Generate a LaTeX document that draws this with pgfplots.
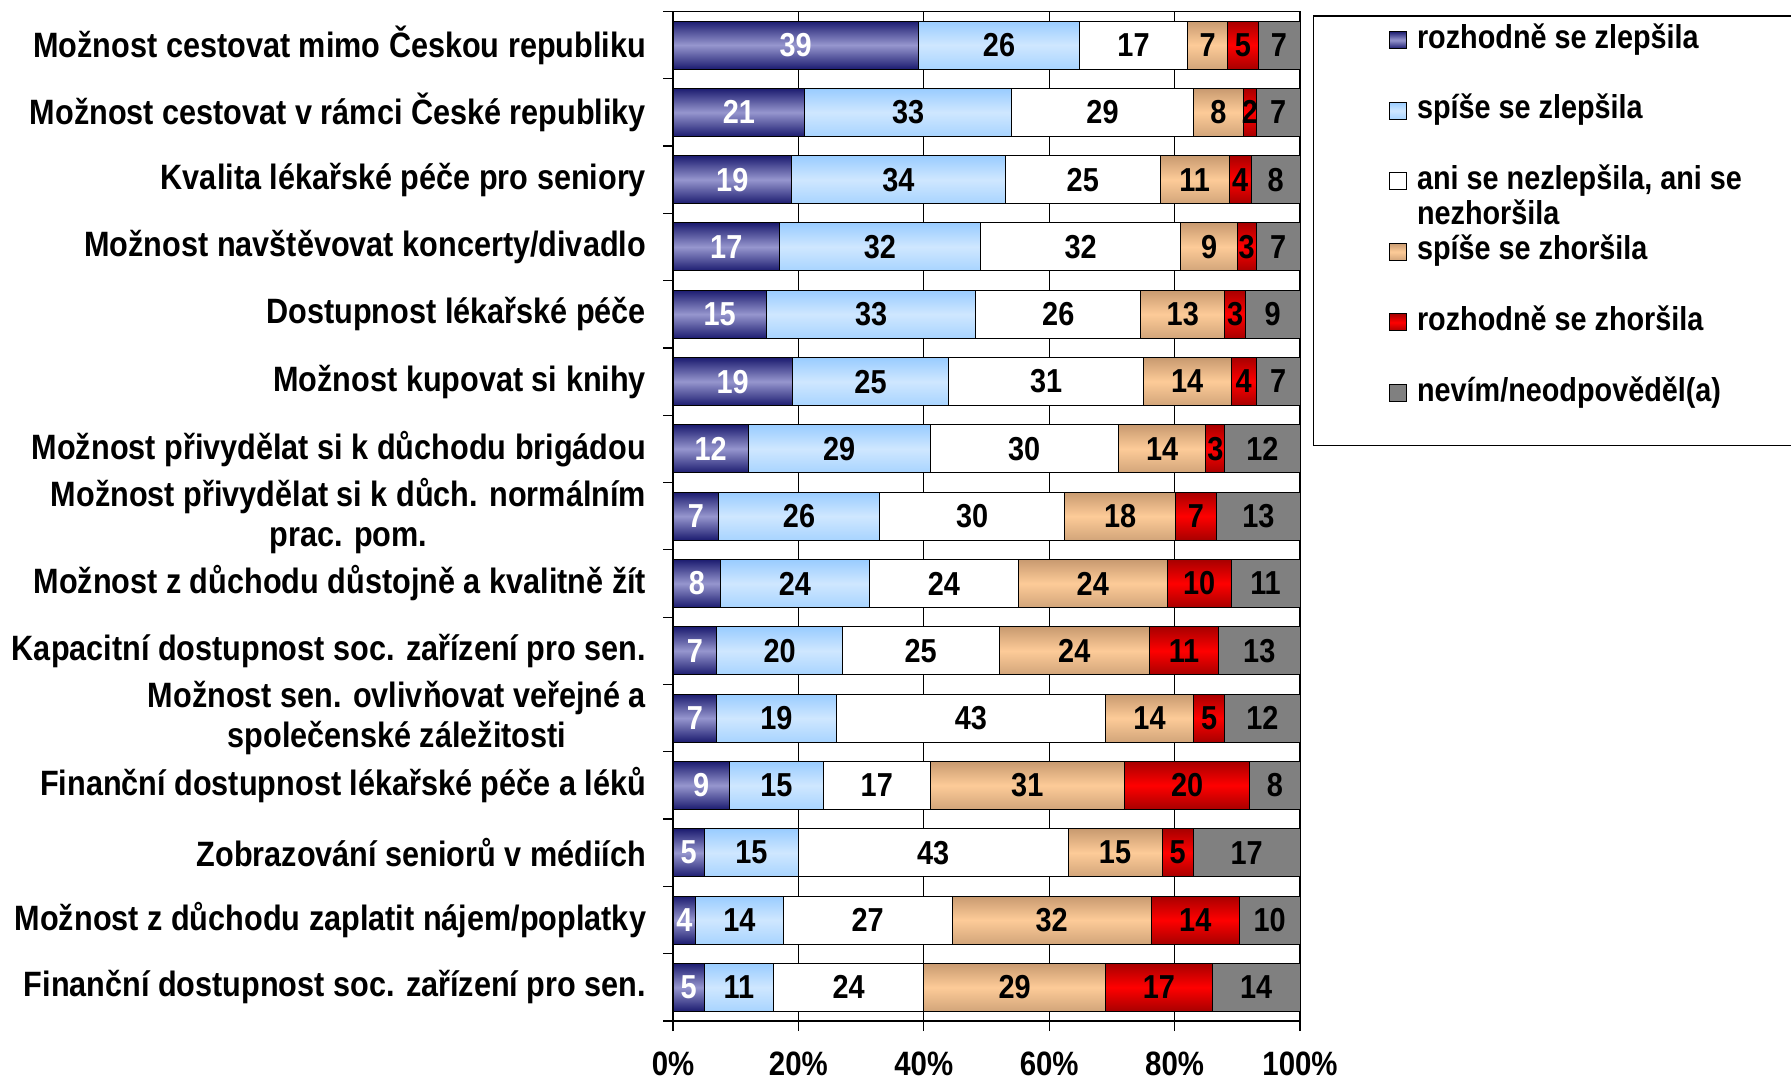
\documentclass[border=0pt]{standalone}
\usepackage{fontspec}
\setmainfont{Liberation Sans}[FakeStretch=0.87]
\usepackage{pgfplots}
\usepackage{pgfplotstable}
\pgfplotsset{compat=1.18}

\definecolor{navyD}{HTML}{1C1C70}
\definecolor{navyL}{HTML}{9696CE}
\definecolor{blueT}{HTML}{99CCFF}
\definecolor{blueM}{HTML}{CFE7FF}
\definecolor{blueB}{HTML}{A8D4FF}
\definecolor{tanT}{HTML}{C89A70}
\definecolor{tanM}{HTML}{FDCB98}
\definecolor{tanB}{HTML}{D2A57A}
\definecolor{redD}{HTML}{A80000}
\definecolor{redM}{HTML}{FF0000}
\definecolor{grayB}{HTML}{808080}

\newcommand{\cfnt}{\fontsize{17.6}{20}\selectfont\bfseries}
\newcommand{\xfnt}{\fontsize{16.9}{20}\selectfont\bfseries}
\newcommand{\nfnt}{\fontsize{16.6}{18}\selectfont\bfseries}
\newcommand{\lfnt}{\fontsize{16.55}{17.1}\selectfont\bfseries}

\pgfplotstableread{
r p1 p2 p3 p4 p5 p6 l1 l2 l3 l4 l5 l6
0 39.1 25.8 17.1 6.5 4.8 6.7 39 26 17 7 5 7
1 21 33 29 8 2 7 21 33 29 8 2 7
2 18.9 34.1 24.7 11.0 3.5 7.8 19 34 25 11 4 8
3 17 32 32 9 3 7 17 32 32 9 3 7
4 14.9 33.4 26.3 13.4 3.3 8.7 15 33 26 13 3 9
5 19 25 31 14 4 7 19 25 31 14 4 7
6 12 29 30 14 3 12 12 29 30 14 3 12
7 7.3 25.6 29.6 17.6 6.6 13.3 7 26 30 18 7 13
8 7.6 23.7 23.8 23.7 10.2 11.0 8 24 24 24 10 11
9 7 20 25 24 11 13 7 20 25 24 11 13
10 7 19 43 14 5 12 7 19 43 14 5 12
11 9 15 17 31 20 8 9 15 17 31 20 8
12 5 15 43 15 5 17 5 15 43 15 5 17
13 3.6 14.0 26.9 31.8 14.0 9.7 4 14 27 32 14 10
14 5 11 24 29 17 14 5 11 24 29 17 14
}\data

\pgfplotsset{
  s1/.style={top color=navyD, bottom color=navyD, middle color=navyL, draw=black, line width=0.5pt},
  s2/.style={top color=blueT, bottom color=blueB, middle color=blueM, draw=black, line width=0.5pt},
  s3/.style={fill=white, draw=black, line width=0.5pt},
  s4/.style={top color=tanT, bottom color=tanB, middle color=tanM, draw=black, line width=0.5pt},
  s5/.style={top color=redD, bottom color=redD, middle color=redM, draw=black, line width=0.5pt},
  s6/.style={fill=grayB, draw=black, line width=0.5pt},
  rowax/.style={
    scale only axis, width=313.5pt, height=33.6533pt,
    xbar stacked, bar width=24pt,
    xmin=0, xmax=100, ymin=-0.5, ymax=0.5,
    hide axis, clip=false,
    /pgf/number format/assume math mode=true,
    point meta=explicit,
    nodes near coords,
    every node near coord/.append style={anchor=center, font=\nfnt, inner sep=0pt},
  },
}

\newcommand{\getv}[3]{\pgfplotstablegetelem{#1}{#2}\of\data\edef#3{\pgfplotsretval}}

\begin{document}
\begin{tikzpicture}
\begin{axis}[
  at={(336.5pt,29.5pt)}, anchor=south west,
  scale only axis, width=313.5pt, height=504.8pt,
  xmin=0, xmax=100, ymin=-0.5, ymax=14.5, y dir=reverse,
  axis line style={line width=0.6pt},
  xtick={0,20,40,60,80,100},
  xticklabels={0\%,20\%,40\%,60\%,80\%,100\%},
  ytick={0,...,14},
  yticklabels={
    Možnost cestovat mimo Českou republiku,
    Možnost cestovat v rámci České republiky,
    Kvalita lékařské péče pro seniory,
    Možnost navštěvovat koncerty/divadlo,
    Dostupnost lékařské péče,
    Možnost kupovat si knihy,
    Možnost přivydělat si k důchodu brigádou,
    {Možnost přivydělat si k důch. normálním\\prac. pom.},
    Možnost z důchodu důstojně a kvalitně žít,
    Kapacitní dostupnost soc. zařízení pro sen.,
    {Možnost sen. ovlivňovat veřejné a\\společenské záležitosti},
    Finanční dostupnost lékařské péče a léků,
    Zobrazování seniorů v médiích,
    Možnost z důchodu zaplatit nájem/poplatky,
    Finanční dostupnost soc. zařízení pro sen.
  },
  minor ytick={-0.5,0.5,...,14.5},
  tick align=outside,
  major tick length=5pt, minor tick length=5pt,
  tick style={black, line width=0.6pt},
  major y tick style={draw=none},
  xtick pos=bottom, ytick pos=left,
  xmajorgrids, major x grid style={black, line width=0.5pt},
  yticklabel style={font=\cfnt, align=center, inner sep=0pt, xshift=-8.3pt},
  xticklabel style={font=\xfnt, inner sep=0pt, yshift=-10.4pt},
  legend image code/.code={\draw[#1, draw=black, line width=0.5pt] (0pt,-4.25pt) rectangle (8.5pt,4.25pt);},
  legend cell align=left,
  legend style={at={(1.142,0.9875)}, anchor=north west, draw=none, fill=none,
    inner sep=0pt, outer sep=0pt, row sep=19.3pt, column sep=5pt, font=\lfnt,
    nodes={inner sep=0pt, text height=12pt, text depth=4pt}},
]
\addlegendimage{s1}
\addlegendimage{s2}
\addlegendimage{s3}
\addlegendimage{s4}
\addlegendimage{s5}
\addlegendimage{s6}
\legend{rozhodně se zlepšila, spíše se zlepšila,
  {\begin{tabular}[t]{@{}l@{}}ani se nezlepšila, ani se\\nezhoršila\end{tabular}},
  spíše se zhoršila, rozhodně se zhoršila, nevím/neodpověděl(a)}
\end{axis}
\pgfplotsinvokeforeach{0,...,14}{
\getv{#1}{p1}\pA \getv{#1}{p2}\pB \getv{#1}{p3}\pC
\getv{#1}{p4}\pD \getv{#1}{p5}\pE \getv{#1}{p6}\pF
\getv{#1}{l1}\lA \getv{#1}{l2}\lB \getv{#1}{l3}\lC
\getv{#1}{l4}\lD \getv{#1}{l5}\lE \getv{#1}{l6}\lF
\begin{axis}[rowax, at={(336.5pt,534.3pt)}, anchor=north west, yshift={-#1*33.6533pt}]
\addplot[s1, every node near coord/.append style={white}]
  coordinates {(\pA,0) [\lA]};
\addplot[s2] coordinates {(\pB,0) [\lB]};
\addplot[s3] coordinates {(\pC,0) [\lC]};
\addplot[s4] coordinates {(\pD,0) [\lD]};
\addplot[s5] coordinates {(\pE,0) [\lE]};
\addplot[s6] coordinates {(\pF,0) [\lF]};
\end{axis}
}
\draw[line width=0.7pt] (895.5pt,532pt) -- (656.8pt,532pt) -- (656.8pt,317.3pt) -- (895.5pt,317.3pt);
\pgfresetboundingbox
\path[use as bounding box] (0,0) rectangle (895.5pt,540pt);
\end{tikzpicture}
\end{document}
